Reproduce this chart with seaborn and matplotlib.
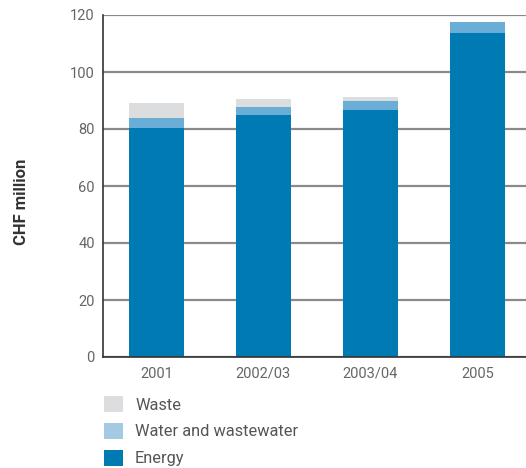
import matplotlib
matplotlib.use("Agg")
import matplotlib.pyplot as plt
import seaborn as sns
import pandas as pd
import numpy as np
from matplotlib.patches import Patch

categories = ["2001", "2002/03", "2003/04", "2005"]
energy = [80.5, 85.0, 86.8, 113.8]
water = [3.5, 2.8, 3.1, 3.8]
waste = [5.2, 2.8, 1.4, 0.0]
y_ticks = [0, 20, 40, 60, 80, 100, 120]

c_energy = "#007AB2"
c_water = "#6AADD6"
c_water_legend = "#A3C9E3"
c_waste = "#DCDDDF"

sns.set_theme(style="white")
plt.rcParams["font.family"] = ["Roboto", "DejaVu Sans"]

e = np.array(energy)
w = np.array(water)
ws = np.array(waste)
df = pd.DataFrame({
    "year": categories,
    "total": e + w + ws,
    "ew": e + w,
    "energy": e,
})

fig = plt.figure(figsize=(5.26, 4.68), dpi=100)
ax = fig.add_axes([103 / 526, 1 - 357 / 468, (531 - 103) / 526, 342 / 468])

for col, color in [("total", c_waste), ("ew", c_water), ("energy", c_energy)]:
    sns.barplot(data=df, x="year", y=col, color=color, width=0.52,
                saturation=1, ax=ax, zorder=3, linewidth=0, edgecolor="none")

ax.set_xlim(-0.5, 3.5)
ax.set_ylim(0, 120)
ax.set_yticks(y_ticks)
ax.yaxis.grid(True, color="#8a8a8a", linewidth=1.6, zorder=0)
ax.set_axisbelow(True)
for s in ["top", "right"]:
    ax.spines[s].set_visible(False)
ax.spines["left"].set_color("#333333")
ax.spines["left"].set_linewidth(1.2)
ax.spines["bottom"].set_color("#333333")
ax.spines["bottom"].set_linewidth(1.2)
ax.spines["bottom"].set_zorder(5)
ax.tick_params(axis="both", length=0, labelsize=10.5, labelcolor="#666666")
ax.tick_params(axis="y", pad=6)
ax.tick_params(axis="x", pad=7)
ax.set_xlabel("")
ax.set_ylabel("")

fig.text(22 / 526, 1 - 202 / 468, "CHF million", rotation=90, ha="center",
         va="center", fontsize=12, fontweight="bold", color="#333333")

handles = [Patch(facecolor=c_waste, edgecolor="none"),
           Patch(facecolor=c_water_legend, edgecolor="none"),
           Patch(facecolor=c_energy, edgecolor="none")]
labels = ["Waste", "Water and wastewater", "Energy"]
leg = fig.legend(handles, labels, loc="upper left",
                 bbox_to_anchor=(99 / 526, 1 - 391 / 468), frameon=False,
                 fontsize=11.8, handlelength=1.15, handleheight=1.15,
                 labelspacing=0.62, handletextpad=0.75, borderaxespad=0,
                 borderpad=0.3)
for t in leg.get_texts():
    t.set_color("#555555")

fig.savefig("out.png", dpi=100)
